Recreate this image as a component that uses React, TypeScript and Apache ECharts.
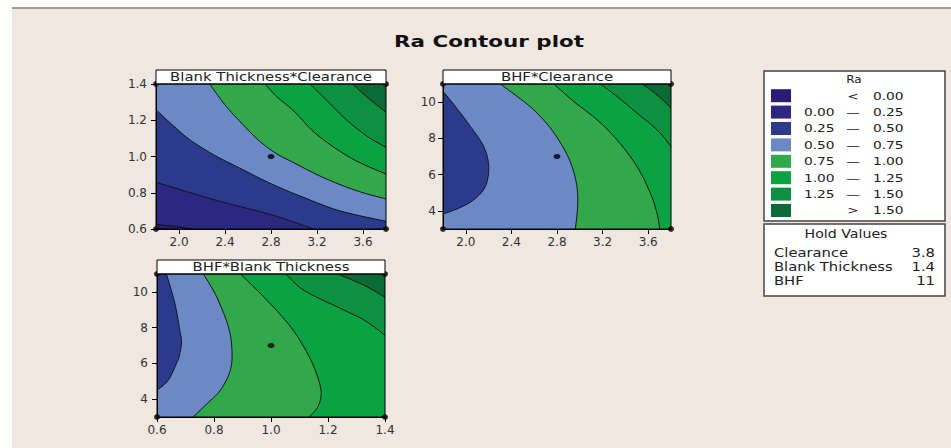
import { useEffect, useRef } from "react";
import * as echarts from "echarts";

// ---------- data ----------
const levelColors = ["#2b1b77", "#2c2882", "#2b3a8b", "#6a89c5", "#33a84a", "#0ba243", "#0b913f", "#0b6b35"];
const legendLow = ["", "0.00", "0.25", "0.50", "0.75", "1.00", "1.25", ""];
const legendSep = ["<", "—", "—", "—", "—", "—", "—", ">"];
const legendHigh = ["0.00", "0.25", "0.50", "0.75", "1.00", "1.25", "1.50", "1.50"];

const holdNames = ["Clearance", "Blank Thickness", "BHF"];
const holdValues = ["3.8", "1.4", "11"];

const chartTitle = "Ra Contour plot";
const panelTitles = ["Blank Thickness*Clearance", "BHF*Clearance", "BHF*Blank Thickness"];

const clearanceRange = [1.8, 3.8];
const thicknessRange = [0.6, 1.4];
const bhfRange = [3, 11];
const clearanceTicks = [2.0, 2.4, 2.8, 3.2, 3.6];
const thicknessTicks = [0.6, 0.8, 1.0, 1.2, 1.4];
const bhfTicks = [4, 6, 8, 10];

const p1Center = [[2.8, 1.0]];
const p2Center = [[2.8, 7]];
const p3Center = [[1.0, 7]];

// contour boundaries (Ra = 0, 0.25, 0.5, 0.75, 1.0, 1.25, 1.5), high side on the left of travel
const p1c0 = [[1.8, 0.626], [1.975, 0.613], [2.121, 0.6]];
const p1c1 = [[1.8, 0.858], [2.1, 0.8], [2.4, 0.745], [2.78, 0.683], [3.0, 0.638], [3.17, 0.6]];
const p1c2 = [[1.8, 1.258], [1.95, 1.17], [2.1, 1.09], [2.3, 1.01], [2.5, 0.945], [2.8, 0.85], [3.1, 0.77], [3.4, 0.7], [3.8, 0.642]];
const p1c3 = [[2.267, 1.4], [2.4, 1.285], [2.55, 1.18], [2.7, 1.085], [2.85, 1.015], [3.0, 0.965], [3.2, 0.9], [3.4, 0.845], [3.6, 0.8], [3.8, 0.766]];
const p1c4 = [[2.749, 1.4], [2.85, 1.33], [3.0, 1.25], [3.2, 1.12], [3.5, 0.99], [3.8, 0.903]];
const p1c5 = [[3.14, 1.4], [3.3, 1.3], [3.46, 1.2], [3.64, 1.11], [3.8, 1.051]];
const p1c6 = [[3.51, 1.4], [3.65, 1.32], [3.8, 1.244]];
const p1Levels = [0, 1, 2, 3, 4, 5, 6, 7];

const p2c2 = [[1.8, 10.594], [1.908, 9.765], [2.04, 8.659], [2.157, 7.553], [2.201, 6.447], [2.171, 5.341], [2.069, 4.604], [1.937, 4.143], [1.8, 3.83]];
const p2c3 = [[2.303, 11], [2.449, 10.318], [2.595, 9.581], [2.742, 8.567], [2.858, 7.461], [2.932, 6.447], [2.975, 5.341], [2.981, 4.235], [2.961, 3]];
const p2c4 = [[2.771, 11], [2.946, 10.041], [3.151, 9.028], [3.326, 7.922], [3.502, 6.447], [3.619, 4.972], [3.677, 3.866], [3.701, 3]];
const p2c5 = [[3.18, 11], [3.326, 10.318], [3.502, 9.396], [3.677, 8.475], [3.8, 7.553]];
const p2c6 = [[3.546, 11], [3.677, 10.41], [3.8, 9.673]];
const p2Levels = [2, 3, 4, 5, 6, 7];

const p3c2 = [[0.633, 11], [0.663, 9.33], [0.68, 7.84], [0.686, 7.2], [0.678, 6.4], [0.668, 5.98], [0.639, 5.05], [0.6, 4.49]];
const p3c3 = [[0.763, 11], [0.81, 9.7], [0.851, 8.02], [0.863, 6.72], [0.857, 5.6], [0.822, 4.49], [0.775, 3.74], [0.727, 3]];
const p3c4 = [[0.893, 11], [0.987, 9.51], [1.07, 8.02], [1.129, 6.53], [1.164, 5.23], [1.176, 4.3], [1.164, 3.56], [1.134, 3]];
const p3c5 = [[1.052, 11], [1.117, 10.07], [1.235, 9.14], [1.329, 8.4], [1.4, 7.56]];
const p3c6 = [[1.235, 11], [1.329, 10.35], [1.4, 9.7]];
const p3Levels = [2, 3, 4, 5, 6, 7];

// ---------- layout ----------
const FONT = '"DejaVu Sans", Verdana, sans-serif';

const panels = [
  {
    grid: { left: 156, top: 84, width: 230, height: 145 },
    xr: clearanceRange, yr: thicknessRange, xTicks: clearanceTicks, yTicks: thicknessTicks,
    xDec: 1, yDec: 1, yMargin: 9, curves: [p1c0, p1c1, p1c2, p1c3, p1c4, p1c5, p1c6], levels: p1Levels,
    center: p1Center, title: panelTitles[0],
  },
  {
    grid: { left: 443, top: 84, width: 228, height: 145 },
    xr: clearanceRange, yr: bhfRange, xTicks: clearanceTicks, yTicks: bhfTicks,
    xDec: 1, yDec: 0, yMargin: 7, curves: [p2c2, p2c3, p2c4, p2c5, p2c6], levels: p2Levels,
    center: p2Center, title: panelTitles[1],
  },
  {
    grid: { left: 157, top: 274, width: 228, height: 143 },
    xr: thicknessRange, yr: bhfRange, xTicks: thicknessTicks, yTicks: bhfTicks,
    xDec: 1, yDec: 0, yMargin: 9, curves: [p3c2, p3c3, p3c4, p3c5, p3c6], levels: p3Levels,
    center: p3Center, title: panelTitles[2],
  },
];

function boundaryCorners(curve: number[][], xr: number[], yr: number[]) {
  const [x0, x1] = xr;
  const [y0, y1] = yr;
  const e = 1e-6;
  const tOf = (p: number[]) => {
    const [x, y] = p;
    if (Math.abs(x - x0) < e) return (y - y0) / (y1 - y0);
    if (Math.abs(y - y1) < e) return 1 + (x - x0) / (x1 - x0);
    if (Math.abs(x - x1) < e) return 2 + (y1 - y) / (y1 - y0);
    return 3 + (x1 - x) / (x1 - x0);
  };
  const corners = [[x0, y0], [x0, y1], [x1, y1], [x1, y0]];
  const tS = tOf(curve[0]);
  const tE = tOf(curve[curve.length - 1]);
  let d = tE - tS;
  if (d <= 0) d += 4;
  const out: number[][] = [];
  let c = Math.ceil(tE - 1e-9) - 1;
  while (tE - c < d) {
    out.push(corners[((c % 4) + 4) % 4]);
    c--;
  }
  return out;
}

function smoothPx(pts: number[][]) {
  if (pts.length < 3) return pts;
  const out: number[][] = [];
  const n = pts.length;
  const steps = 10;
  for (let i = 0; i < n - 1; i++) {
    const p0 = pts[Math.max(0, i - 1)];
    const p1 = pts[i];
    const p2 = pts[i + 1];
    const p3 = pts[Math.min(n - 1, i + 2)];
    for (let s = 0; s < steps; s++) {
      const t = s / steps;
      const t2 = t * t;
      const t3 = t2 * t;
      const f = (a: number, b: number, c: number, dd: number) =>
        0.5 * (2 * b + (-a + c) * t + (2 * a - 5 * b + 4 * c - dd) * t2 + (-a + 3 * b - 3 * c + dd) * t3);
      out.push([f(p0[0], p1[0], p2[0], p3[0]), f(p0[1], p1[1], p2[1], p3[1])]);
    }
  }
  out.push(pts[n - 1]);
  return out;
}

function makeRender(panel: any) {
  return (params: any, api: any) => {
    const i = params.dataIndex;
    const [x0, x1] = panel.xr;
    const [y0, y1] = panel.yr;
    const color = levelColors[panel.levels[i]];
    if (i === 0) {
      const pts = [[x0, y0], [x0, y1], [x1, y1], [x1, y0]].map((p) => api.coord(p));
      return { type: "polygon", shape: { points: pts }, style: { fill: color } };
    }
    const curve = panel.curves[i - 1];
    const linePx = smoothPx(curve.map((p: number[]) => api.coord(p)));
    const cornersPx = boundaryCorners(curve, panel.xr, panel.yr).map((p) => api.coord(p));
    return {
      type: "group",
      children: [
        { type: "polygon", shape: { points: linePx.concat(cornersPx) }, style: { fill: color } },
        { type: "polyline", shape: { points: linePx }, style: { stroke: "#111", lineWidth: 1, fill: "none" } },
      ],
    };
  };
}

function txt(text: string, x: number, y: number, size: number, align: string, sx: number, weight = "normal", color = "#222") {
  return {
    type: "text", x, y, scaleX: sx, z: 20, silent: true,
    style: {
      text, x: 0, y: 0, fill: color, font: `${weight} ${size}px ${FONT}`,
      align, textAlign: align, verticalAlign: "middle", textVerticalAlign: "middle",
    },
  };
}

export default function App() {
  const ref = useRef<HTMLDivElement>(null);
  useEffect(() => {
    if (!ref.current) return;
    const chart = echarts.init(ref.current, null, { renderer: "svg" });

    const grids = panels.map((p) => ({ ...p.grid, show: false }));
    const axisBase = (gridIndex: number, range: number[], ticks: number[], dec: number, margin: number) => ({
      type: "value", gridIndex, min: range[0], max: range[1], z: 5,
      axisLine: { show: true, onZero: false, lineStyle: { color: "#000", width: 1 } },
      axisTick: { show: true, length: 5, customValues: ticks, lineStyle: { color: "#000" } },
      axisLabel: {
        customValues: ticks, formatter: (v: number) => Number(v).toFixed(dec),
        fontSize: 12, fontFamily: "DejaVu Sans", color: "#333", margin,
      },
      splitLine: { show: false },
    });
    const xAxes = panels.map((p, i) => axisBase(i, p.xr, p.xTicks, p.xDec, 7));
    const yAxes = panels.map((p, i) => axisBase(i, p.yr, p.yTicks, p.yDec, p.yMargin));

    const series: any[] = [];
    panels.forEach((p, i) => {
      series.push({
        type: "custom", coordinateSystem: "cartesian2d", xAxisIndex: i, yAxisIndex: i, z: 2, silent: true,
        renderItem: makeRender(p),
        encode: { x: 0, y: 1 },
        data: p.levels.map((l) => [p.xr[0], p.yr[0], l]),
      });
      const corners = [[p.xr[0], p.yr[0]], [p.xr[0], p.yr[1]], [p.xr[1], p.yr[0]], [p.xr[1], p.yr[1]]];
      series.push({
        type: "scatter", xAxisIndex: i, yAxisIndex: i, z: 6, symbol: "circle", symbolSize: 6,
        itemStyle: { color: "#000" }, data: corners, clip: false, silent: true,
      });
      series.push({
        type: "scatter", xAxisIndex: i, yAxisIndex: i, z: 6, symbol: "circle", symbolSize: [7, 5],
        itemStyle: { color: "#000" }, data: p.center, silent: true,
      });
    });

    const graphics: any[] = [
      { type: "rect", shape: { x: 0, y: 0, width: 951, height: 7 }, style: { fill: "#ffffff" }, z: 1, silent: true },
      { type: "rect", shape: { x: 0, y: 0, width: 12, height: 448 }, style: { fill: "#ffffff" }, z: 1, silent: true },
      { type: "rect", shape: { x: 12, y: 7, width: 939, height: 2 }, style: { fill: "#9c9c9c" }, z: 1, silent: true },
      txt(chartTitle, 489, 41, 16, "center", 1.34, "bold", "#111"),
    ];
    panels.forEach((p) => {
      const g = p.grid;
      graphics.push({
        type: "rect", shape: { x: g.left, y: g.top - 14, width: g.width, height: 14 },
        style: { fill: "#ffffff", stroke: "#000", lineWidth: 1 }, z: 10, silent: true,
      });
      graphics.push(txt(p.title, g.left + g.width / 2, g.top - 7, 12, "center", 1.24, "normal", "#222"));
      graphics.push({
        type: "rect", shape: { x: g.left, y: g.top, width: g.width, height: g.height },
        style: { fill: "none", stroke: "#000", lineWidth: 1 }, z: 10, silent: true,
      });
    });

    // legend box
    graphics.push({
      type: "rect", shape: { x: 764, y: 71, width: 181, height: 150 },
      style: { fill: "#ffffff", stroke: "#444", lineWidth: 1.5 }, z: 10, silent: true,
    });
    graphics.push(txt("Ra", 854, 80, 10, "center", 1.2));
    levelColors.forEach((c, i) => {
      const y = 95.7 + 16.4 * i;
      graphics.push({
        type: "rect", shape: { x: 771, y: y - 6.5, width: 20, height: 13 }, style: { fill: c }, z: 12, silent: true,
      });
      if (legendLow[i]) graphics.push(txt(legendLow[i], 804, y, 11, "left", 1.25));
      graphics.push(txt(legendSep[i], 853, y, 11, "center", 1.25));
      graphics.push(txt(legendHigh[i], 873, y, 11, "left", 1.25));
    });

    // hold values box
    graphics.push({
      type: "rect", shape: { x: 764, y: 224, width: 181, height: 72 },
      style: { fill: "#ffffff", stroke: "#444", lineWidth: 1.5 }, z: 10, silent: true,
    });
    graphics.push(txt("Hold Values", 846, 234, 12, "center", 1.18));
    holdNames.forEach((n, i) => {
      const y = 252.5 + 14 * i;
      graphics.push(txt(n, 774, y, 12, "left", 1.23));
      graphics.push(txt(holdValues[i], 935, y, 12, "right", 1.23));
    });

    chart.setOption({
      animation: false,
      backgroundColor: "#EFE7E0",
      grid: grids,
      xAxis: xAxes,
      yAxis: yAxes,
      series,
      graphic: { elements: graphics },
    });
    return () => chart.dispose();
  }, []);

  return <div ref={ref} style={{ position: "fixed", left: 0, top: 0, width: 951, height: 448 }} />;
}
